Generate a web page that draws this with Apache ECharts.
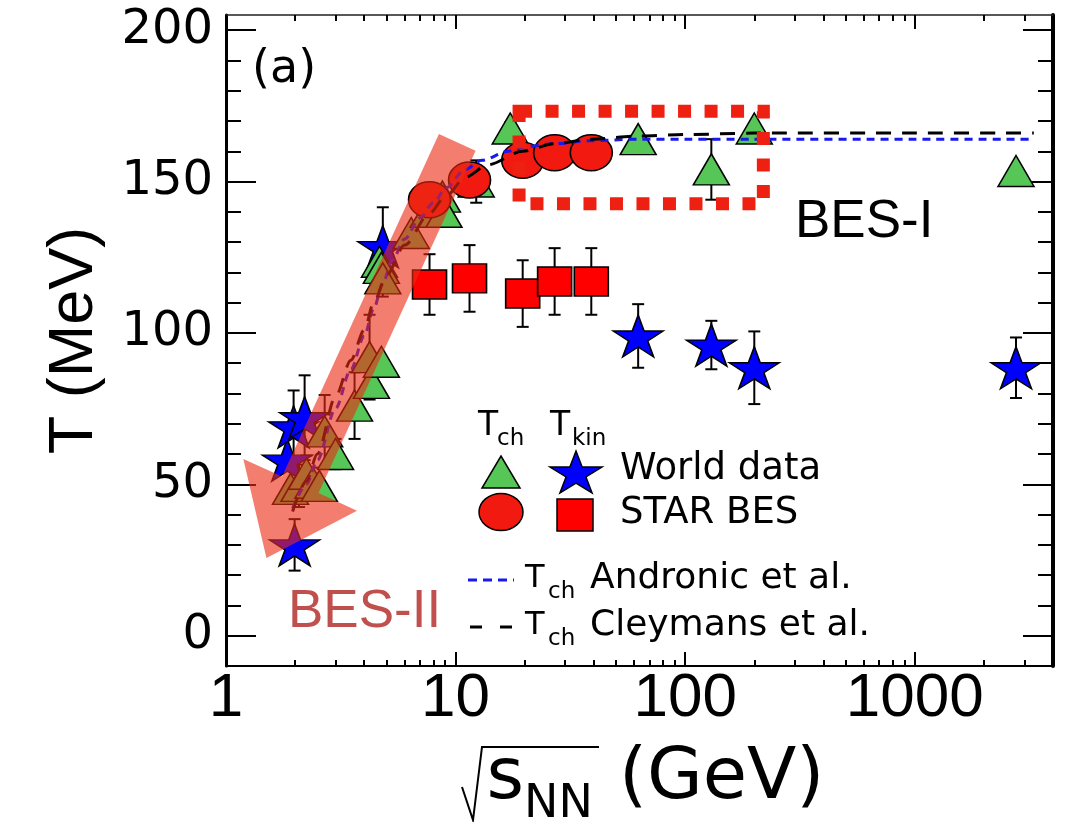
<!DOCTYPE html>
<html><head><meta charset="utf-8">
<script src="https://cdn.jsdelivr.net/npm/echarts@6/dist/echarts.min.js"></script>
<style>html,body{margin:0;padding:0;background:#fff}#c{width:1065px;height:822px}</style>
</head><body><div id="c"></div>
<script>
// ---------- data ----------
// [sqrt(sNN) GeV, T MeV, error MeV]
const tchWorld = [
  [1.91, 48.5, 0], [2.08, 49.5, 7], [2.24, 53.5, 6], [2.39, 50.5, 5], [2.55, 49.5, 0],
  [2.69, 67.5, 12], [3.0, 60, 5], [3.63, 76, 11], [4.22, 92, 14], [4.3, 83.5, 4],
  [4.75, 90.5, 0], [4.66, 123.5, 0], [4.75, 121.5, 0], [4.82, 118, 6], [6.41, 133, 0],
  [7.6, 140, 0], [8.76, 145, 0], [8.9, 140, 0], [12.3, 150, 7], [17.3, 167.5, 2],
  [62.4, 164, 0], [130, 154, 10], [200, 167.5, 0], [2760, 153.5, 0]
];
const tkinWorld = [
  [1.99, 30, 8.5], [1.85, 58, 0], [1.97, 69, 12], [2.2, 72, 14], [4.82, 128.5, 13],
  [62.4, 99, 10.5], [130, 96, 8], [200, 88.5, 12], [2760, 88.5, 10]
];
const tchStar = [[7.7, 144], [11.5, 150.5], [19.6, 157], [27, 159.5], [39, 159.5]];
const tkinStar = [[7.7, 116, 10], [11.5, 118, 11], [19.6, 113, 11], [27, 117, 11], [39, 117, 11]];
const andronicCurve = [
  [1.95, 42], [2.24, 50], [2.5, 58], [3.0, 75], [3.5, 88], [4.0, 99], [4.4, 108], [4.8, 116],
  [5.3, 124], [6.0, 131], [7.0, 138], [8.0, 143], [9.1, 148], [11, 154], [13, 157], [17, 160],
  [20, 161.5], [27, 162.5], [39, 163.5], [62, 164], [100, 164], [200, 164], [1000, 164], [3300, 164]
];
const cleymansCurve = [
  [1.95, 41], [2.24, 51], [2.5, 60], [3.0, 79], [3.5, 91], [4.0, 101], [4.4, 110], [5.0, 119],
  [6.0, 129], [7.7, 139.5], [9.0, 145], [11.1, 151.5], [13.8, 155.5], [19.6, 160], [27, 162.5],
  [39, 164], [62, 165], [100, 165.5], [200, 166], [1000, 166], [3300, 166]
];
// annotation shapes in data coordinates
const besIBox = [[18.9, 142.7, 219, 173.2]];
const besIIArrow = [[8.46, 165.7], [12.22, 160.2], [2.53, 47.1], [3.72, 41.3], [1.50, 25.7], [1.19, 58.4], [1.755, 52.6]];
// ticks
const xMajor = [1, 10, 100, 1000];
const xMinor = [2, 3, 4, 5, 6, 7, 8, 9, 20, 30, 40, 50, 60, 70, 80, 90, 200, 300, 400, 500, 600, 700, 800, 900, 2000, 3000];
const yMajor = [0, 50, 100, 150, 200];
const yMinor = [10, 20, 30, 40, 60, 70, 80, 90, 110, 120, 130, 140, 160, 170, 180, 190];

// ---------- helpers ----------
const STAR = 'path://M100,0L122.45,69.1L195.1,69.1L136.3,111.8L158.8,180.9L100,138.2L41.2,180.9L63.7,111.8L4.9,69.1L77.55,69.1Z';
const DJ = '"DejaVu Sans"';
const LS = '"Liberation Sans"';
function errData(arr) { return arr.filter(d => d[2] > 0).map(d => [d[0], d[1] - d[2], d[1] + d[2]]); }
function errRender(params, api) {
  const x = api.value(0), lo = api.value(1), hi = api.value(2);
  const t = api.coord([x, hi]), b = api.coord([x, lo]);
  const cap = 6, st = { stroke: '#000', lineWidth: 2 };
  return { type: 'group', children: [
    { type: 'line', shape: { x1: t[0], y1: t[1], x2: b[0], y2: b[1] }, style: st },
    { type: 'line', shape: { x1: t[0] - cap, y1: t[1], x2: t[0] + cap, y2: t[1] }, style: st },
    { type: 'line', shape: { x1: b[0] - cap, y1: b[1], x2: b[0] + cap, y2: b[1] }, style: st }
  ] };
}
function errSeries(arr) {
  return { type: 'custom', z: 2, coordinateSystem: 'cartesian2d', renderItem: errRender,
    encode: { x: 0, y: [1, 2] }, data: errData(arr), silent: true };
}
function starPoints(cx, cy, w, h) {
  const rx = w / 1.902, ry = h / 1.809, cc = cy + 0.0955 * ry, pts = [];
  for (let k = 0; k < 10; k++) {
    const a = (-90 + 36 * k) * Math.PI / 180, r = k % 2 ? 0.382 : 1;
    pts.push([cx + rx * r * Math.cos(a), cc + ry * r * Math.sin(a)]);
  }
  return pts;
}
function txt(text, x, y, size, family, color) {
  return { type: 'text', z: 100, x: x, y: y, silent: true,
    style: { text: text, font: size + 'px ' + family, fill: color || '#000', textAlign: 'left', textVerticalAlign: 'middle' } };
}
function xAx(pos, ticks, len, line, lineColor, lineWidth, extra) {
  return Object.assign({ type: 'log', logBase: 10, min: 1, max: 4000, position: pos,
    axisLine: { show: line, onZero: false, lineStyle: { color: lineColor, width: lineWidth } },
    axisTick: { show: true, inside: true, length: len, customValues: ticks, lineStyle: { color: '#000', width: 2 } },
    axisLabel: { show: false }, splitLine: { show: false }, minorTick: { show: false } }, extra || {});
}
function yAx(pos, ticks, len, line, lineWidth, extra) {
  return Object.assign({ type: 'value', min: -10, max: 205, position: pos,
    axisLine: { show: line, onZero: false, lineStyle: { color: '#000', width: lineWidth } },
    axisTick: { show: true, inside: true, length: len, customValues: ticks, lineStyle: { color: '#000', width: 2 } },
    axisLabel: { show: false }, splitLine: { show: false }, minorTick: { show: false } }, extra || {});
}

const chart = echarts.init(document.getElementById('c'));
const option = {
  animation: false,
  backgroundColor: '#fff',
  grid: { left: 226, right: 12, top: 15, bottom: 156, containLabel: false, outerBoundsMode: 'none' },
  xAxis: [
    xAx('bottom', xMajor, 14, true, '#000', 2, {
      axisLabel: { show: true, customValues: xMajor, formatter: v => String(Math.round(v)),
        fontSize: 62, fontFamily: 'Liberation Sans', color: '#000', margin: 2 },
      name: '{s|s}{n|NN}{g|(GeV)}', nameLocation: 'middle', nameGap: 77, nameMoveOverlap: false,
      nameTextStyle: { padding: [0, 0, 0, 32], rich: {
        s: { fontSize: 72, fontFamily: 'DejaVu Sans', color: '#000', lineHeight: 72, verticalAlign: 'middle' },
        n: { fontSize: 46, fontFamily: 'DejaVu Sans', color: '#000', lineHeight: 72, verticalAlign: 'middle', padding: [52, 0, 0, 0] },
        g: { fontSize: 72, fontFamily: 'DejaVu Sans', color: '#000', lineHeight: 72, verticalAlign: 'middle', padding: [0, 0, 0, 26] } } }
    }),
    xAx('bottom', xMinor, 6, false, '#000', 0),
    xAx('top', xMajor, 14, true, '#222', 1.5),
    xAx('top', xMinor, 6, false, '#000', 0)
  ],
  yAxis: [
    yAx('left', yMajor, 30, true, 3, {
      axisLabel: { show: true, customValues: yMajor, fontSize: 48, fontFamily: 'DejaVu Sans', color: '#000', margin: 13 },
      name: 'T (MeV)', nameLocation: 'middle', nameRotate: 90, nameGap: 120, nameMoveOverlap: false,
      nameTextStyle: { fontSize: 63, fontFamily: 'Liberation Sans', color: '#000' }
    }),
    yAx('left', yMinor, 15, false, 0),
    yAx('right', yMajor, 30, true, 4),
    yAx('right', yMinor, 15, false, 0)
  ],
  series: [
    errSeries(tkinWorld),
    errSeries(tchWorld),
    errSeries(tkinStar),
    { name: 'Tkin world', type: 'scatter', z: 3, symbol: STAR, symbolSize: [50, 42],
      itemStyle: { color: '#0000FF', borderColor: '#000', borderWidth: 1.5, opacity: 1 },
      data: tkinWorld.map(d => [d[0], d[1]]) },
    { name: 'Tch world', type: 'scatter', z: 4, symbol: 'triangle', symbolSize: [36, 31],
      itemStyle: { color: '#56C656', borderColor: '#000', borderWidth: 1.5, opacity: 1 },
      data: tchWorld.map(d => [d[0], d[1]]) },
    { name: 'Tkin STAR', type: 'scatter', z: 5, symbol: 'rect', symbolSize: [34, 29],
      itemStyle: { color: '#FF0000', borderColor: '#000', borderWidth: 1.5, opacity: 1 },
      data: tkinStar.map(d => [d[0], d[1]]) },
    { name: 'Tch STAR', type: 'scatter', z: 6, symbol: 'circle', symbolSize: [42, 36],
      itemStyle: { color: '#F21A10', borderColor: '#000', borderWidth: 1.5, opacity: 1 },
      data: tchStar },
    { name: 'Andronic', type: 'line', z: 7, symbol: 'none', smooth: 0.3, smoothMonotone: 'x',
      lineStyle: { color: '#1818F0', width: 3, type: [8, 6] }, data: andronicCurve, silent: true },
    { name: 'Cleymans', type: 'line', z: 7, symbol: 'none', smooth: 0.3, smoothMonotone: 'x',
      lineStyle: { color: '#000', width: 3, type: [15, 11] }, data: cleymansCurve, silent: true },
    { type: 'custom', z: 8, coordinateSystem: 'cartesian2d', silent: true, encode: { x: [0, 2], y: [1, 3] },
      data: besIBox,
      renderItem: function (params, api) {
        const a = api.coord([api.value(0), api.value(1)]), b = api.coord([api.value(2), api.value(3)]);
        return { type: 'rect', shape: { x: Math.min(a[0], b[0]), y: Math.min(a[1], b[1]),
            width: Math.abs(b[0] - a[0]), height: Math.abs(b[1] - a[1]) },
          style: { fill: null, stroke: '#EE2012', lineWidth: 13, lineDash: [13, 13.5] } };
      } },
    { type: 'custom', z: 9, coordinateSystem: 'cartesian2d', silent: true, encode: { x: 0, y: 1 },
      data: besIIArrow,
      renderItem: function (params, api) {
        if (params.dataIndex !== 0) return null;
        return { type: 'polygon', shape: { points: besIIArrow.map(p => api.coord(p)) },
          style: { fill: 'rgba(235,42,20,0.61)' } };
      } }
  ],
  graphic: [
    txt('(a)', 252, 70, 46, DJ),
    txt('BES-I', 795, 222, 53, LS),
    txt('BES-II', 288, 612, 53, LS, '#C0504D'),
    // legend
    txt('T', 478, 426, 33, DJ), txt('ch', 497, 439, 23, DJ),
    txt('T', 550, 426, 33, DJ), txt('kin', 572, 439, 23, DJ),
    { type: 'polygon', z: 100, shape: { points: [[482, 488], [520, 488], [501, 456]] },
      style: { fill: '#56C656', stroke: '#000', lineWidth: 1.5 } },
    { type: 'polygon', z: 100, shape: { points: starPoints(576, 472, 52, 42) },
      style: { fill: '#0000FF', stroke: '#000', lineWidth: 1.5 } },
    txt('World data', 620, 469, 37, DJ),
    { type: 'ellipse', z: 100, shape: { cx: 501, cy: 512, rx: 22, ry: 18.5 },
      style: { fill: '#F21A10', stroke: '#000', lineWidth: 1.5 } },
    { type: 'rect', z: 100, shape: { x: 557, y: 499, width: 36, height: 32 },
      style: { fill: '#FF0000', stroke: '#000', lineWidth: 1.5 } },
    txt('STAR BES', 620, 513, 37, DJ),
    { type: 'line', z: 100, shape: { x1: 468, y1: 580, x2: 514, y2: 580 },
      style: { stroke: '#1818F0', lineWidth: 3, lineDash: [9, 6] } },
    txt('T', 525, 579, 32, DJ), txt('ch', 548, 592, 23, DJ),
    txt('Andronic et al.', 590, 579, 36, DJ),
    { type: 'line', z: 100, shape: { x1: 470, y1: 627, x2: 513, y2: 627 },
      style: { stroke: '#000', lineWidth: 3, lineDash: [12, 18] } },
    txt('T', 525, 626, 32, DJ), txt('ch', 548, 639, 23, DJ),
    txt('Cleymans et al.', 590, 626, 36, DJ),
    // radical sign of the x-axis title
    { type: 'polyline', z: 100, shape: { points: [[462, 787], [473, 820], [482, 747], [599, 747]] },
      style: { stroke: '#000', lineWidth: 2, fill: null } }
  ]
};
chart.setOption(option);
</script></body></html>
